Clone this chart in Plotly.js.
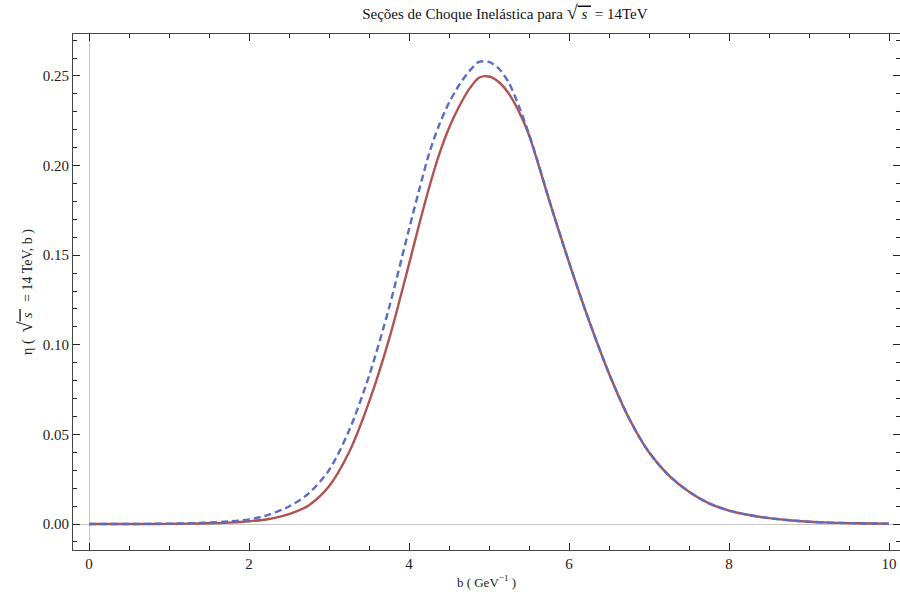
<!DOCTYPE html>
<html>
<head>
<meta charset="utf-8">
<script src="https://cdn.plot.ly/plotly-3.0.1.min.js"></script>
<style>html,body{margin:0;padding:0;background:#fff;}#chart{width:900px;height:599px;}</style>
</head>
<body>
<div id="chart"></div>
<script>
// impact parameter b (GeV^-1)
const bValues = [0, 0.25, 0.5, 0.75, 1.0, 1.25, 1.5, 1.75, 2.0, 2.25, 2.5, 2.75, 3.0, 3.25, 3.5, 3.75,
  4.0, 4.125, 4.25, 4.375, 4.5, 4.625, 4.75, 4.875, 5.0, 5.125, 5.25, 5.375, 5.5, 5.625, 5.75, 5.875, 6.0,
  6.25, 6.5, 6.75, 7.0, 7.25, 7.5, 7.75, 8.0, 8.25, 8.5, 8.75, 9.0, 9.25, 9.5, 9.75, 10.0];
// solid red curve
const etaSolid = [0, 0, 0, 0, 0.0001, 0.0002, 0.0004, 0.0008, 0.0015, 0.0028, 0.0055, 0.0105, 0.021, 0.040, 0.068, 0.103,
  0.145, 0.1668, 0.1875, 0.2060, 0.2210, 0.2328, 0.2425, 0.2490, 0.2497, 0.2465, 0.2400, 0.2300, 0.2170, 0.1995, 0.181, 0.1633, 0.146,
  0.1135, 0.084, 0.059, 0.040, 0.027, 0.018, 0.0115, 0.0075, 0.0050, 0.0033, 0.0021, 0.0013, 0.0008, 0.0005, 0.0003, 0.0002];
// dashed blue curve
const etaDashed = [0, 0, 0, 0.0001, 0.0002, 0.0004, 0.0008, 0.0014, 0.0025, 0.0052, 0.0098, 0.0172, 0.0300, 0.0520, 0.0825, 0.1205,
  0.1645, 0.1860, 0.2065, 0.2225, 0.2350, 0.2448, 0.2525, 0.2578, 0.2578, 0.2540, 0.2460, 0.2330, 0.2175, 0.1998, 0.181, 0.1633, 0.146,
  0.1135, 0.084, 0.059, 0.040, 0.027, 0.018, 0.0115, 0.0075, 0.0050, 0.0033, 0.0021, 0.0013, 0.0008, 0.0005, 0.0003, 0.0002];

const xTickVals = [0, 2, 4, 6, 8, 10];
const xTickText = ['0', '2', '4', '6', '8', '10'];
const yTickVals = [0, 0.05, 0.10, 0.15, 0.20, 0.25];
const yTickText = ['0.00', '0.05', '0.10', '0.15', '0.20', '0.25'];

const serif = 'Liberation Serif, Times New Roman, serif';

const traces = [
  {x: bValues, y: etaSolid, type: 'scatter', mode: 'lines', line: {color: '#b05252', width: 2.4, shape: 'spline', smoothing: 0.8}, hoverinfo: 'skip'},
  {x: bValues, y: etaDashed, type: 'scatter', mode: 'lines', line: {color: '#5a6cc6', width: 2.4, dash: '7px,4px', shape: 'spline', smoothing: 0.8}, hoverinfo: 'skip'}
];

const axisCommon = {
  showline: true, linecolor: '#444', linewidth: 1, mirror: 'ticks',
  ticks: 'inside', ticklen: 7, tickwidth: 1, tickcolor: '#222',
  showgrid: false, zeroline: true, zerolinecolor: '#c8c8c8', zerolinewidth: 1,
  tickfont: {family: serif, size: 15, color: '#222'}
};

const layout = {
  width: 900, height: 599,
  margin: {l: 73, r: 0, t: 34, b: 49},
  paper_bgcolor: '#fff', plot_bgcolor: '#fff',
  showlegend: false,
  title: {text: 'Seções de Choque Inelástica para <span style="font-size:20px">√</span><span style="text-decoration:overline"><i> s </i></span> = 14TeV',
          font: {family: serif, size: 15, color: '#111'}, x: 0.561, xanchor: 'center', y: 0.985, yanchor: 'top'},
  xaxis: Object.assign({}, axisCommon, {
    range: [-0.2, 10.1375], tickvals: xTickVals, ticktext: xTickText,
    minor: {dtick: 0.5, tick0: 0, ticks: 'inside', ticklen: 4, tickcolor: '#222', showgrid: false},
    title: {text: 'b ( GeV<sup>−1</sup> )', font: {family: serif, size: 13, color: '#222'}, standoff: 6}
  }),
  yaxis: Object.assign({}, axisCommon, {
    range: [-0.0145, 0.2734], tickvals: yTickVals, ticktext: yTickText,
    minor: {dtick: 0.01, tick0: 0, ticks: 'inside', ticklen: 4, tickcolor: '#222', showgrid: false},
    title: {text: 'η (  <span style="font-size:20px">√</span><span style="text-decoration:overline"><i> s </i></span>  = 14 TeV, b )', font: {family: serif, size: 14, color: '#222'}, standoff: 6}
  })
};

Plotly.newPlot('chart', traces, layout, {staticPlot: true, displayModeBar: false});
</script>
</body>
</html>
